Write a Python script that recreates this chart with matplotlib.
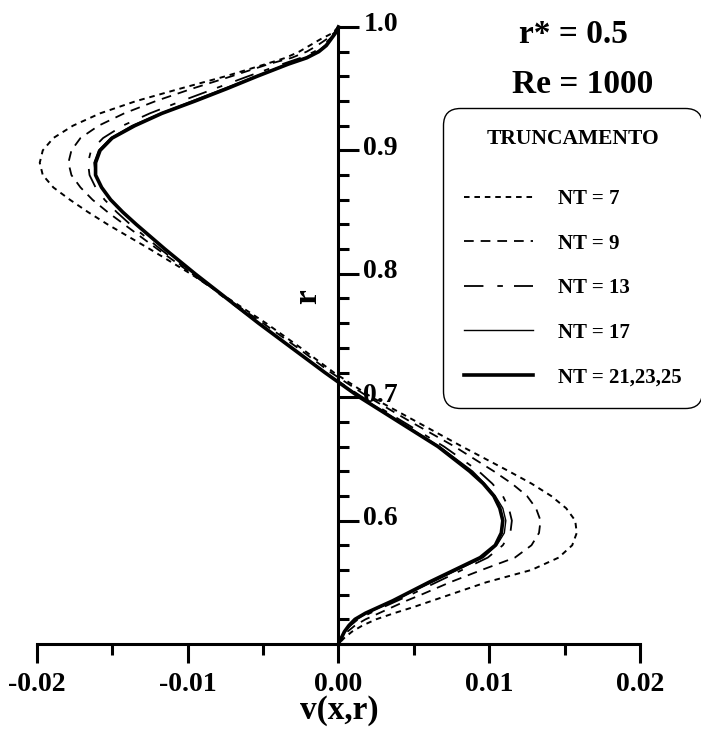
import matplotlib
matplotlib.use("Agg")
import matplotlib.pyplot as plt
from matplotlib.ticker import MultipleLocator, FixedLocator
from matplotlib.transforms import ScaledTranslation

plt.rcParams['font.family'] = ['Liberation Serif', 'DejaVu Serif']
plt.rcParams['font.weight'] = 'bold'
plt.rcParams['lines.scale_dashes'] = False

# radial positions (shared grid)
r = [1.000, 0.995, 0.990, 0.985, 0.980, 0.975, 0.970, 0.960, 0.950, 0.940,
     0.930, 0.920, 0.910, 0.900, 0.890, 0.880, 0.870, 0.860, 0.850, 0.840,
     0.820, 0.800, 0.780, 0.760, 0.740, 0.720, 0.700, 0.680, 0.660, 0.640,
     0.630, 0.620, 0.610, 0.600, 0.590, 0.580, 0.570, 0.560, 0.550, 0.540,
     0.535, 0.530, 0.525, 0.520, 0.515, 0.510, 0.505, 0.500]

v_nt7 = [0.0, -0.0004, -0.0012, -0.0019, -0.0026, -0.0035, -0.0048, -0.0075, -0.0105, -0.0134,
         -0.0158, -0.0176, -0.0189, -0.0196, -0.0198, -0.0196, -0.0189, -0.0178, -0.0166, -0.0153,
         -0.0125, -0.0098, -0.0073, -0.0048, -0.0025, -0.0003, 0.0022, 0.0052, 0.0082, 0.0113,
         0.0128, 0.0141, 0.0151, 0.0157, 0.0158, 0.0155, 0.0146, 0.0128, 0.0098, 0.0074,
         0.0062, 0.0050, 0.0037, 0.0025, 0.0016, 0.0009, 0.0004, 0.0]

v_nt9 = [0.0, -0.0003, -0.0008, -0.0014, -0.0021, -0.0031, -0.0046, -0.0071, -0.0097, -0.0121,
         -0.0142, -0.0159, -0.0171, -0.0177, -0.0179, -0.0177, -0.0171, -0.0163, -0.0153, -0.0142,
         -0.0120, -0.0097, -0.0074, -0.0050, -0.0027, -0.0005, 0.0020, 0.0048, 0.0077, 0.0103,
         0.0115, 0.0125, 0.0131, 0.0134, 0.0133, 0.0128, 0.0117, 0.0095, 0.0074, 0.0055,
         0.0045, 0.0036, 0.0027, 0.0018, 0.0011, 0.0006, 0.0002, 0.0]

v_nt13 = [0.0, -0.0002, -0.0006, -0.0010, -0.0016, -0.0025, -0.0037, -0.0060, -0.0082, -0.0104,
          -0.0125, -0.0143, -0.0156, -0.0164, -0.0166, -0.0165, -0.0161, -0.0155, -0.0147, -0.0138,
          -0.0118, -0.0097, -0.0075, -0.0053, -0.0031, -0.0009, 0.0016, 0.0043, 0.0070, 0.0093,
          0.0102, 0.0109, 0.0113, 0.0115, 0.0114, 0.0109, 0.0099, 0.0082, 0.0065, 0.0048,
          0.0039, 0.0030, 0.0021, 0.0013, 0.0008, 0.0004, 0.0002, 0.0]

v_nt17 = [0.0, -0.0002, -0.0005, -0.0009, -0.0014, -0.0022, -0.0034, -0.0055, -0.0076, -0.0097,
          -0.0118, -0.0137, -0.0151, -0.0159, -0.0162, -0.0161, -0.0157, -0.0151, -0.0143, -0.0134,
          -0.0115, -0.0095, -0.0074, -0.0053, -0.0031, -0.0009, 0.0015, 0.0041, 0.0067, 0.0089,
          0.0097, 0.0104, 0.0109, 0.0111, 0.0110, 0.0105, 0.0096, 0.0079, 0.0062, 0.0045,
          0.0037, 0.0028, 0.0019, 0.0012, 0.0007, 0.0004, 0.0002, 0.0]

v_nt21 = [0.0, -0.0002, -0.0005, -0.0008, -0.0013, -0.0021, -0.0033, -0.0054, -0.0074, -0.0095,
          -0.0117, -0.0135, -0.0150, -0.0158, -0.0161, -0.0161, -0.0157, -0.0151, -0.0143, -0.0134,
          -0.0115, -0.0095, -0.0074, -0.0053, -0.0031, -0.0009, 0.0014, 0.0040, 0.0066, 0.0087,
          0.0096, 0.0103, 0.0107, 0.0109, 0.0108, 0.0104, 0.0094, 0.0077, 0.0060, 0.0044,
          0.0036, 0.0027, 0.0018, 0.0011, 0.0007, 0.0004, 0.0002, 0.0]

labels = ['NT = 7', 'NT = 9', 'NT = 13', 'NT = 17', 'NT = 21,23,25']

x_ticks = [-0.02, -0.01, 0.00, 0.01, 0.02]
x_ticklabels = ['-0.02', '-0.01', '0.00', '0.01', '0.02']
y_ticks = [0.6, 0.7, 0.8, 0.9, 1.0]
y_ticklabels = ['0.6', '0.7', '0.8', '0.9', '1.0']

fig = plt.figure(figsize=(7.01, 7.37), dpi=100)
ax = fig.add_axes([0.0524, 0.1262, 0.8607, 0.8372])

series = [v_nt7, v_nt9, v_nt13, v_nt17, v_nt21]
styles = [dict(ls=(0, (4, 3.5)), lw=1.4),
          dict(ls=(0, (7, 5)), lw=1.3),
          dict(ls=(0, (14, 10, 4, 8)), lw=1.3),
          dict(ls='-', lw=1.0),
          dict(ls='-', lw=2.6)]
handles = []
for v, st, lab in zip(series, styles, labels):
    h, = ax.plot(v, r, color='black', label=lab, clip_on=False, **st)
    handles.append(h)

ax.set_xlim(-0.02, 0.02)
ax.set_ylim(0.5, 1.0)

ax.spines['top'].set_visible(False)
ax.spines['left'].set_visible(False)
ax.spines['right'].set_position(('data', 0))
ax.spines['right'].set_linewidth(2.2)
ax.spines['bottom'].set_linewidth(2.2)
ax.yaxis.set_ticks_position('right')

ax.xaxis.set_major_locator(FixedLocator(x_ticks))
ax.set_xticklabels(x_ticklabels)
ax.xaxis.set_minor_locator(MultipleLocator(0.005))
ax.yaxis.set_major_locator(FixedLocator(y_ticks))
ax.set_yticklabels(y_ticklabels)
ax.yaxis.set_minor_locator(MultipleLocator(0.02))

ax.tick_params(axis='x', which='major', direction='out', length=14, width=2.2, pad=6, labelsize=20)
ax.tick_params(axis='x', which='minor', direction='out', length=8, width=2.2)
ax.tick_params(axis='y', which='major', direction='out', length=15, width=2.2, pad=3, labelsize=20)
ax.tick_params(axis='y', which='minor', direction='out', length=8, width=2.2)
for t in ax.get_xticklabels() + ax.get_yticklabels():
    t.set_fontweight('bold')
shift_up = ScaledTranslation(0, 5 / 100, fig.dpi_scale_trans)
for t in ax.get_yticklabels():
    t.set_transform(t.get_transform() + shift_up)

ax.set_xlabel('v(x,r)', fontsize=24, fontweight='bold')
ax.xaxis.set_label_coords(0.501, -0.083)
ax.text((308 - 36.7) / 603.3, (644 - 297) / 617, 'r', rotation=90, transform=ax.transAxes,
        ha='center', va='center', fontsize=24, fontweight='bold')

fig.text(573 / 701, 1 - 43 / 737, 'r* = 0.5', ha='center', va='baseline', fontsize=24, fontweight='bold')
fig.text(583 / 701, 1 - 93 / 737, 'Re = 1000', ha='center', va='baseline', fontsize=24, fontweight='bold')

leg = ax.legend(handles=handles, labels=labels, title='TRUNCAMENTO\n',
                loc='upper left', bbox_to_anchor=(443 / 701, 1 - 108 / 737),
                bbox_transform=fig.transFigure, borderaxespad=0,
                prop=dict(family='Liberation Serif', weight='bold', size=15),
                title_fontproperties=dict(family='Liberation Serif', weight='bold', size=15.5),
                handlelength=3.3, handletextpad=1.2, labelspacing=1.18, borderpad=1.0,
                frameon=True, fancybox=True, framealpha=1, edgecolor='black')
leg.get_frame().set_linewidth(1.0)
leg.get_frame().set_boxstyle('round', pad=0, rounding_size=0.8)
leg.get_title().set_linespacing(0.7)

fig.savefig('out.png', dpi=100)
